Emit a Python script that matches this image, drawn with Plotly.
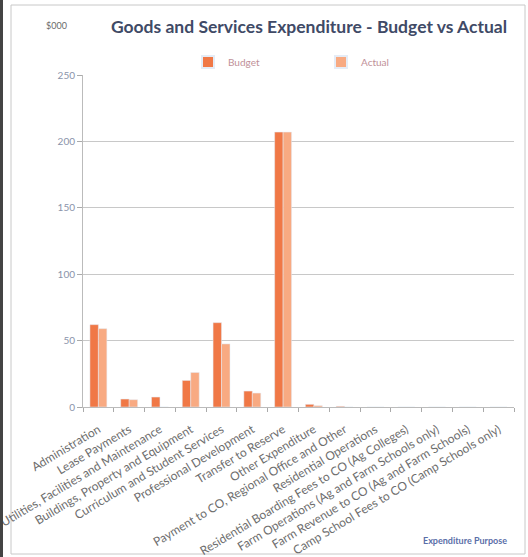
import plotly.graph_objects as go

categories = [
    "Administration",
    "Lease Payments",
    "Utilities, Facilities and Maintenance",
    "Buildings, Property and Equipment",
    "Curriculum and Student Services",
    "Professional Development",
    "Transfer to Reserve",
    "Other Expenditure",
    "Payment to CO, Regional Office and Other",
    "Residential Operations",
    "Residential Boarding Fees to CO (Ag Colleges)",
    "Farm Operations (Ag and Farm Schools only)",
    "Farm Revenue to CO (Ag and Farm Schools)",
    "Camp School Fees to CO (Camp Schools only)",
]
budget = [62, 6, 7.5, 20, 63.5, 12, 207, 2, 0.5, 0, 0, 0, 0, 0]
actual = [59, 5.5, 0, 26, 47.5, 10.5, 207, 1, 0, 0, 0, 0, 0, 0]
y_ticks = [0, 50, 100, 150, 200, 250]

W, H = 528, 557
L, R, T, B = 83, 14, 75, 150
pw = W - L - R
ph = H - T - B

def px_x(x):
    return (x - L) / pw

def px_y(y):
    return (H - B - y) / ph

fig = go.Figure()
fig.add_trace(go.Bar(name="Budget", x=categories, y=budget, marker_color="#f07846"))
fig.add_trace(go.Bar(name="Actual", x=categories, y=actual, marker_color="#f8aa82"))

fig.update_layout(
    width=W, height=H,
    margin=dict(l=L, r=R, t=T, b=B, autoexpand=False),
    paper_bgcolor="white", plot_bgcolor="white",
    barmode="group", bargap=0.45, bargroupgap=0,
    font=dict(family="Lato, Liberation Sans, sans-serif", size=10, color="#7a7a7a"),
    title=dict(text="<b>Goods and Services Expenditure - Budget vs Actual</b>",
               x=309 / W, xanchor="center", xref="container",
               y=1 - 27 / H, yanchor="middle", yref="container",
               font=dict(size=17.5, color="#404a66", family="Lato, Liberation Sans, sans-serif")),
    legend=dict(orientation="h", x=px_x(188), xanchor="left", y=px_y(62), yanchor="middle",
                entrywidth=88, entrywidthmode="pixels",
                font=dict(size=10, color="#c09098"), bgcolor="rgba(0,0,0,0)",
                itemsizing="constant"),
    showlegend=True,
)
fig.update_xaxes(
    type="category", tickson="boundaries", ticks="outside", ticklen=4, tickcolor="#aaaaaa",
    showline=True, linecolor="#bbbbbb", linewidth=1, showgrid=False,
    tickangle=-31, ticklabelstandoff=10, tickfont=dict(size=12, color="#6d6d6d"), automargin=False,
)
fig.update_yaxes(
    range=[0, 250], tickvals=y_ticks, ticktext=[str(v) for v in y_ticks],
    ticks="outside", ticklen=5, tickcolor="#aaaaaa",
    showline=True, linecolor="#bbbbbb", linewidth=1,
    showgrid=True, gridcolor="#c8c8c8", gridwidth=1, zeroline=False,
    tickfont=dict(size=10, color="#8a93aa"), automargin=False,
)

fig.add_annotation(text="$000", xref="paper", yref="paper", x=px_x(56), y=px_y(26),
                   showarrow=False, font=dict(size=9, color="#6a6a6a"), xanchor="center", yanchor="middle")
fig.add_annotation(text="<b>Expenditure Purpose</b>", xref="paper", yref="paper", x=px_x(465), y=px_y(540),
                   showarrow=False, font=dict(size=9, color="#5a6ea8"), xanchor="center", yanchor="middle")

# chart frame
fig.add_shape(type="rect", xref="paper", yref="paper",
              x0=px_x(11), x1=px_x(525), y0=px_y(554), y1=px_y(5),
              line=dict(color="#c8c8c8", width=1), fillcolor="rgba(0,0,0,0)", layer="below")
fig.add_shape(type="line", xref="paper", yref="paper",
              x0=px_x(1.5), x1=px_x(1.5), y0=px_y(557), y1=px_y(0),
              line=dict(color="#444444", width=3))

fig.write_html("out.html")
